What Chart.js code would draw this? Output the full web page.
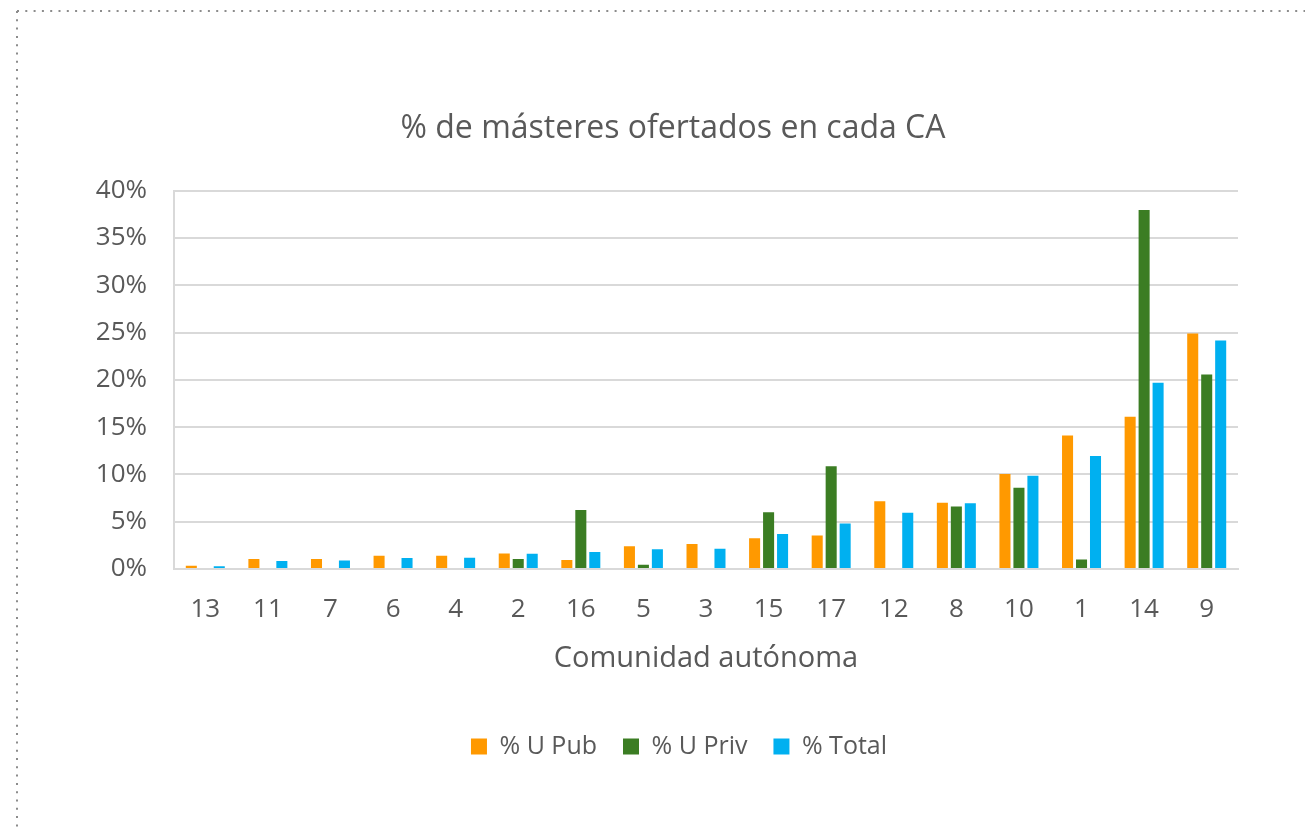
<!DOCTYPE html>
<html>
<head>
<meta charset="utf-8">
<script src="https://cdn.jsdelivr.net/npm/chart.js@4.4.1/dist/chart.umd.min.js"></script>
<style>
  html, body { margin: 0; padding: 0; background: #fff; }
  #wrap { width: 1305px; height: 827px; position: relative; }
</style>
</head>
<body>
<div id="wrap"><canvas id="grafico"></canvas></div>
<script>
// Datos del gráfico (en %)
const comunidades = ['13', '11', '7', '6', '4', '2', '16', '5', '3', '15', '17', '12', '8', '10', '1', '14', '9'];
const uPub   = [0.35, 1.05, 1.05, 1.4, 1.4, 1.65, 0.95, 2.4, 2.65, 3.25, 3.55, 7.15, 7.0, 10.05, 14.1, 16.1, 24.9];
const uPriv  = [0, 0, 0, 0, 0, 1.05, 6.25, 0.45, 0, 6.0, 10.85, 0, 6.6, 8.6, 1.0, 37.95, 20.55];
const total  = [0.3, 0.85, 0.9, 1.15, 1.2, 1.6, 1.8, 2.1, 2.15, 3.7, 4.8, 5.95, 6.95, 9.85, 11.95, 19.7, 24.15];
const ticksY = [0, 5, 10, 15, 20, 25, 30, 35, 40];

const gris = '#595959';
const fuente = '"Open Sans", "Noto Sans", sans-serif';

// Borde punteado del recuadro y centrado del título y la leyenda
const bordePunteado = {
    id: 'bordePunteado',
    afterLayout(chart) {
        // título y leyenda van algo más a la derecha que el centro del lienzo
        const t = chart.titleBlock;
        if (t) { t.left = 108; t.width = t.right - t.left; }
        const l = chart.legend;
        if (l) { l.left = 120; l.width = l.right - l.left; }
    },
    beforeDraw(chart) {
        const ctx = chart.ctx;
        ctx.save();
        ctx.fillStyle = '#ffffff';
        ctx.fillRect(0, 0, chart.width, chart.height);
        ctx.strokeStyle = '#8c8c8c';
        ctx.lineWidth = 2;
        ctx.setLineDash([2, 6.3]);
        ctx.beginPath();
        ctx.moveTo(17, 11);
        ctx.lineTo(chart.width, 11);
        ctx.moveTo(17, 11);
        ctx.lineTo(17, chart.height);
        ctx.stroke();
        ctx.restore();
    }
};

const ctx = document.getElementById('grafico').getContext('2d');
new Chart(ctx, {
    type: 'bar',
    data: {
        labels: comunidades,
        datasets: [
            { label: '% U Pub', data: uPub, backgroundColor: '#ff9900' },
            { label: '% U Priv', data: uPriv, backgroundColor: '#3b7d23' },
            { label: '% Total', data: total, backgroundColor: '#00b0f0' }
        ]
    },
    options: {
        responsive: true,
        maintainAspectRatio: false,
        animation: false,
        devicePixelRatio: 1,
        categoryPercentage: 0.67,
        barPercentage: 0.79,
        layout: { padding: { top: 90, left: 20, right: 67, bottom: 58 } },
        plugins: {
            title: {
                display: true,
                text: '% de másteres ofertados en cada CA',
                color: gris,
                font: { family: fuente, size: 32, weight: 'normal' },
                padding: { top: 19.5, bottom: 42.7 }
            },
            legend: {
                position: 'bottom',
                labels: {
                    color: gris,
                    font: { family: fuente, size: 25 },
                    boxWidth: 16,
                    boxHeight: 16,
                    padding: 26
                }
            },
            tooltip: { enabled: false }
        },
        scales: {
            x: {
                grid: { display: false },
                border: { display: true, color: '#d9d9d9', width: 2 },
                ticks: { color: gris, font: { family: fuente, size: 26 }, padding: 17 },
                title: {
                    display: true,
                    text: 'Comunidad autónoma',
                    color: gris,
                    font: { family: fuente, size: 29 },
                    padding: { top: 4, bottom: 31.6 }
                },
                afterFit(scale) { scale.height = 139; }
            },
            y: {
                min: 0,
                max: 40,
                grid: { color: '#d9d9d9', lineWidth: 2, drawTicks: false },
                border: { display: true, color: '#d9d9d9', width: 2 },
                afterBuildTicks(scale) { scale.ticks = ticksY.map(v => ({ value: v })); },
                ticks: {
                    color: gris,
                    font: { family: fuente, size: 26 },
                    padding: 27,
                    callback: value => value + '%'
                },
                afterFit(scale) { scale.width = 154; }
            }
        }
    },
    plugins: [bordePunteado]
});
</script>
</body>
</html>
